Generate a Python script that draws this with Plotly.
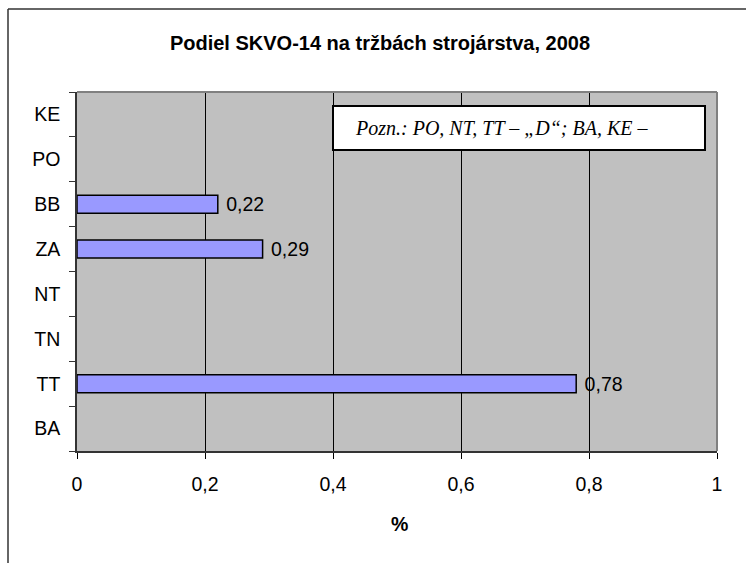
import plotly.graph_objects as go

# Regional share data (bottom to top on the chart)
regions = ["BA", "TT", "TN", "NT", "ZA", "BB", "PO", "KE"]
share = [None, 0.78, None, None, 0.29, 0.22, None, None]
x_ticks = [0, 0.2, 0.4, 0.6, 0.8, 1]
x_tick_labels = ["0", "0,2", "0,4", "0,6", "0,8", "1"]

title_text = "Podiel SKVO-14 na tržbách strojárstva, 2008"
note_text = "Pozn.: PO, NT, TT \u2013 \u201eD\u201c; BA, KE \u2013"

labels = ["" if v is None else " " + f"{v:.2f}".replace(".", ",") for v in share]

W, H = 746, 563
L, R, T, B = 77, 717, 92, 451
pw, ph = R - L, B - T
FS = 19.5


def px(x):
    return (x - L) / pw


def py(y):
    return (B - y) / ph


fig = go.Figure(
    go.Bar(
        y=regions,
        x=share,
        orientation="h",
        marker=dict(color="#9999FF", line=dict(color="black", width=1.5)),
        text=labels,
        textposition="outside",
        constraintext="none",
        textfont=dict(family="Liberation Sans", size=FS, color="black"),
        cliponaxis=False,
        hoverinfo="skip",
    )
)

fig.update_layout(
    width=W,
    height=H,
    margin=dict(l=L, r=W - R, t=T, b=H - B),
    paper_bgcolor="white",
    plot_bgcolor="#C0C0C0",
    bargap=0.6,
    showlegend=False,
    font=dict(family="Liberation Sans", size=FS, color="black"),
    title=dict(
        text="<b>" + title_text + "</b>",
        font=dict(family="Liberation Sans", size=20, color="black"),
        x=380 / W,
        xanchor="center",
        xref="container",
        y=1 - 43 / H,
        yanchor="middle",
        yref="container",
    ),
    xaxis=dict(
        range=[0, 1],
        tickvals=x_ticks,
        ticktext=x_tick_labels,
        showgrid=True,
        gridcolor="black",
        gridwidth=1,
        zeroline=False,
        showline=True,
        linecolor="#333333",
        linewidth=1.5,
        ticks="outside",
        ticklen=6,
        tickcolor="black",
        ticklabelstandoff=9,
        tickfont=dict(size=FS),
        fixedrange=True,
    ),
    yaxis=dict(
        categoryorder="array",
        categoryarray=regions,
        showgrid=False,
        zeroline=False,
        showline=True,
        linecolor="#333333",
        linewidth=1.5,
        ticks="outside",
        tickson="boundaries",
        ticklen=6,
        tickcolor="#333333",
        ticklabelstandoff=11,
        tickfont=dict(size=FS),
        fixedrange=True,
    ),
    shapes=[
        # plot area border, top and right
        dict(type="line", xref="paper", yref="paper", x0=0, x1=1, y0=1, y1=1,
             line=dict(color="#808080", width=2)),
        dict(type="line", xref="paper", yref="paper", x0=1, x1=1, y0=0, y1=1,
             line=dict(color="#808080", width=2)),
        # outer chart frame
        dict(type="line", xref="paper", yref="paper", x0=px(8), x1=px(W + 2), y0=py(9), y1=py(9),
             line=dict(color="#333333", width=1.5)),
        dict(type="line", xref="paper", yref="paper", x0=px(8), x1=px(8), y0=py(9), y1=py(H + 2),
             line=dict(color="#333333", width=1.5)),
        # note box
        dict(type="rect", xref="paper", yref="paper", x0=px(333), x1=px(705), y0=py(106), y1=py(150),
             fillcolor="white", line=dict(color="black", width=2)),
    ],
    annotations=[
        dict(text="<i>" + note_text + "</i>", xref="paper", yref="paper",
             x=px(353), y=py(128), xanchor="left", yanchor="middle", showarrow=False,
             font=dict(family="Liberation Serif", size=20, color="black")),
        dict(text="<b>%</b>", xref="paper", yref="paper",
             x=px(399), y=py(524), xanchor="center", yanchor="middle", showarrow=False,
             font=dict(family="Liberation Sans", size=FS, color="black")),
    ],
)

fig.write_html("out.html")
